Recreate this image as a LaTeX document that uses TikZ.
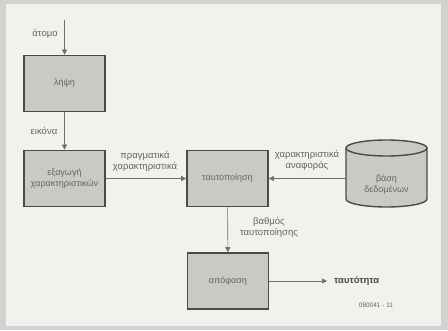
\documentclass[tikz,border=0pt]{standalone}
\usepackage{fontspec}
\setmainfont{Liberation Sans}
\usetikzlibrary{arrows.meta}
\definecolor{frame}{HTML}{D2D2CE}
\definecolor{panel}{HTML}{F1F1ED}
\definecolor{boxfill}{HTML}{C9C9C5}
\definecolor{boxline}{HTML}{4A4A48}
\definecolor{txt}{HTML}{646462}
\tikzset{
  blk/.style={draw=boxline, line width=1.7pt, fill=boxfill, minimum width=81pt, minimum height=56pt, inner sep=0pt, align=center, text=txt, font=\fontsize{9}{11}\selectfont},
  lbl/.style={text=txt, align=center, inner sep=0pt, font=\fontsize{9.5}{11}\selectfont},
  conn/.style={draw=boxline!80, line width=0.6pt, -{Triangle[width=5pt,length=5pt]}}
}
\begin{document}
\begin{tikzpicture}[x=1pt,y=-1pt]
\useasboundingbox (0,0) rectangle (448,330);
\fill[frame] (0,0) rectangle (448,330);
\fill[panel] (6,4) rectangle (441,326);
\node[blk] (lipsi) at (64.5,83.5) {λήψη};
\node[blk] (exag) at (64.5,178.5) {εξαγωγή\\χαρακτηριστικών};
\node[blk] (taut) at (227.5,178.5) {ταυτοποίηση};
\node[blk] (apof) at (228,281) {απόφαση};
% cylinder
\node[minimum width=81pt, minimum height=67pt, inner sep=0pt] (db) at (386.5,173.5) {};
\fill[boxfill] (346,148) -- (346,199) arc[start angle=180,end angle=0,x radius=40.5,y radius=8] -- (427,148) arc[start angle=0,end angle=-180,x radius=40.5,y radius=8] -- cycle;
\draw[boxline, line width=1.4pt] (346,148) -- (346,199) arc[start angle=180,end angle=0,x radius=40.5,y radius=8] -- (427,148);
\draw[boxline, line width=1.4pt] (386.5,148) ellipse[x radius=40.5,y radius=8];
\node[lbl, font=\fontsize{9}{11}\selectfont] at (386.5,184) {βάση\\δεδομένων};
\coordinate (in) at (64.5,20);
\coordinate (out) at (327,281);
\draw[conn] (in) -- (lipsi.north);
\draw[conn] (lipsi) -- (exag);
\draw[conn] (exag) -- (taut);
\draw[conn] (db.west |- taut) -- (taut.east);
\draw[conn] (taut) -- (apof);
\draw[conn] (apof) -- (out);
\node[lbl] at (45,34) {άτομο};
\node[lbl] at (44,131) {εικόνα};
\node[lbl] at (145,161) {πραγματικά\\χαρακτηριστικά};
\node[lbl] at (307,160) {χαρακτηριστικά\\αναφοράς};
\node[lbl] at (269,227.5) {βαθμός\\ταυτοποίησης};
\node[lbl, font=\bfseries\fontsize{9.5}{11}\selectfont, text=boxline, anchor=west] at (334,281) {ταυτότητα};
\node[lbl, font=\fontsize{6.5}{7}\selectfont] at (376,305) {080041 - 11};
\end{tikzpicture}
\end{document}
